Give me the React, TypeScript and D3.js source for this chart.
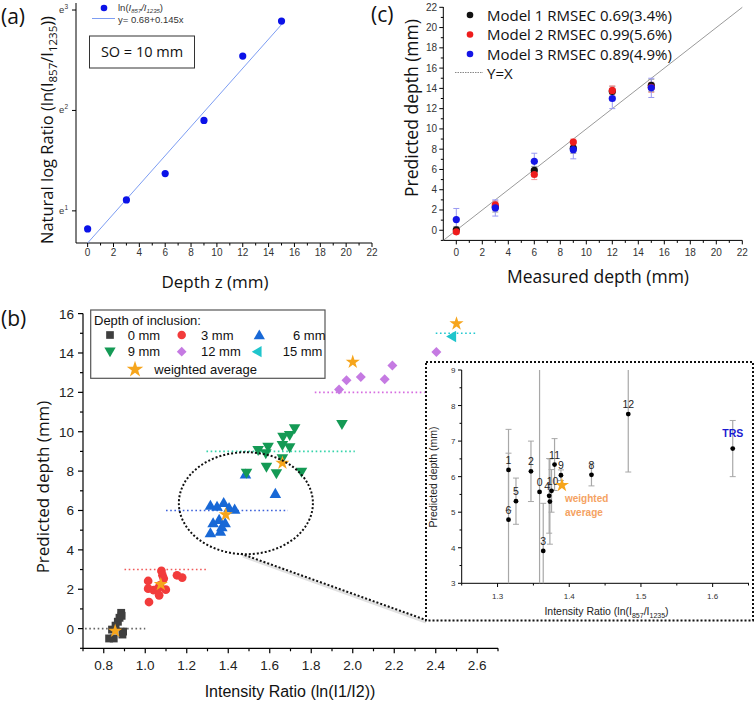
import React from 'react';
import * as d3 from 'd3';

const TITLE = "'Open Sans', 'DejaVu Sans', sans-serif";
const ARIAL = "'Liberation Sans', Arial, sans-serif";

// ---------- Panel (a) ----------
const depthA = [0, 3, 6, 9, 12, 15];
const ratioA = [2.27, 3.03, 3.94, 6.69, 12.7, 18.0];
const fitInterceptA = 0.68;
const fitSlopeA = 0.145;
const fitRangeA = [0, 15];
const xTicksA = [0, 2, 4, 6, 8, 10, 12, 14, 16, 18, 20, 22];
const xMinorA = [1, 3, 5, 7, 9, 11, 13, 15, 17, 19, 21];
const yTicksA = [1, 2, 3];

// ---------- Panel (c) ----------
const measuredC = [0, 3, 6, 9, 12, 15];
const model1 = [0.05, 2.3, 5.9, 8.1, 13.7, 14.3];
const model1Err = [0.3, 0.5, 0.4, 0.5, 0.5, 0.6];
const model2 = [-0.15, 2.5, 5.5, 8.7, 13.8, 14.1];
const model2Err = [0.2, 0.4, 0.5, 0.3, 0.45, 0.5];
const model3 = [1.05, 2.2, 6.8, 7.95, 13.0, 14.05];
const model3Err = [1.1, 0.8, 0.8, 0.9, 1.0, 0.95];
const modelNames = ['Model 1 RMSEC 0.69(3.4%)', 'Model 2 RMSEC 0.99(5.6%)', 'Model 3 RMSEC 0.89(4.9%)'];
const modelColors = ['#111111', '#ee1c1c', '#1515e6'];
const modelErrColors = ['#9a9a9a', '#f29a9a', '#9a9af2'];
const xTicksC = [0, 2, 4, 6, 8, 10, 12, 14, 16, 18, 20, 22];
const xMinorC = [1, 3, 5, 7, 9, 11, 13, 15, 17, 19, 21];
const yTicksC = [0, 2, 4, 6, 8, 10, 12, 14, 16, 18, 20, 22];
const yMinorC = [-1, 1, 3, 5, 7, 9, 11, 13, 15, 17, 19, 21];

// ---------- Panel (b) ----------
const groupLabels = ['0 mm', '3 mm', '6 mm', '9 mm', '12 mm', '15 mm'];
const groupDepths = [0, 3, 6, 9, 12, 15];
const g0x = [0.826, 0.848, 0.84, 0.857, 0.868, 0.876, 0.884, 0.886, 0.893, 0.89];
const g0y = [-0.5, -0.5, -0.05, 0.15, 0.35, 0.55, 0.8, 0.65, -0.15, -0.3];
const g3x = [1.014, 1.014, 1.041, 1.062, 1.067, 1.07, 1.078, 1.083, 1.089, 1.099, 1.018, 1.153, 1.178];
const g3y = [2.42, 2.03, 1.95, 2.03, 1.69, 2.2, 2.93, 2.71, 2.54, 1.98, 1.35, 2.71, 2.59];
const g6x = [1.314, 1.346, 1.378, 1.404, 1.431, 1.327, 1.356, 1.369, 1.385, 1.314, 1.362, 1.627, 1.483];
const g6y = [6.26, 6.21, 6.4, 6.14, 6.06, 5.37, 5.54, 5.16, 5.37, 4.86, 4.94, 6.86, 7.84];
const g9x = [1.72, 1.696, 1.664, 1.661, 1.696, 1.592, 1.544, 1.581, 1.584, 1.632, 1.661, 1.753, 1.488, 1.948];
const g9y = [10.16, 9.82, 9.73, 9.31, 9.19, 9.22, 9.06, 8.89, 8.21, 7.87, 8.63, 7.95, 7.9, 10.38];
const g12x = [1.934, 1.97, 2.039, 2.154, 2.191, 2.403];
const g12y = [12.14, 12.61, 12.78, 12.66, 13.37, 14.05];
const g15x = [2.487];
const g15y = [14.84];
const starX = [0.855, 1.075, 1.388, 1.661, 2.0, 2.5];
const starY = [-0.12, 2.25, 5.79, 8.41, 13.54, 15.49];
const refFrom = [0.71, 0.9, 1.1, 1.295, 1.817, 2.4];
const refTo = [1.0, 1.303, 1.688, 2.01, 2.347, 2.596];
const xTicksB = [0.8, 1.0, 1.2, 1.4, 1.6, 1.8, 2.0, 2.2, 2.4, 2.6];
const xMinorB = [0.7, 0.9, 1.1, 1.3, 1.5, 1.7, 1.9, 2.1, 2.3, 2.5, 2.7];
const yTicksB = [0, 2, 4, 6, 8, 10, 12, 14, 16];
const yMinorB = [-1, 1, 3, 5, 7, 9, 11, 13, 15];
const ellipseB = { cx: 1.485, cy: 6.37, rx: 0.323, ry: 2.59 };

// ---------- Inset ----------
const insetLabels = ['1', '6', '5', '2', '0', '3', '4', '', '10', '11', '9', '8', '12', 'TRS'];
const insetX = [1.3153, 1.3153, 1.3257, 1.3466, 1.3586, 1.3637, 1.372, 1.373, 1.3753, 1.3795, 1.3884, 1.431, 1.4823, 1.628];
const insetY = [6.19, 4.79, 5.31, 6.15, 5.57, 3.91, 5.46, 5.3, 5.6, 6.34, 6.04, 6.05, 7.76, 6.79];
const insetErr = [1.14, 1.87, 0.65, 0.85, 3.6, 1.34, 1.05, 1.2, 0.6, 0.73, 0.15, 0.31, 1.63, 0.79];
const insetStar = [1.3898, 5.76];
const xTicksIn = [1.3, 1.4, 1.5, 1.6];
const xMinorIn = [1.25, 1.35, 1.45, 1.55, 1.65];
const yTicksIn = [3, 4, 5, 6, 7, 8, 9];
const yMinorIn = [3.5, 4.5, 5.5, 6.5, 7.5, 8.5];

const groupColors = ['#3f3f3f', '#f23b3b', '#1868d6', '#149a55', '#c57ae2', '#1fc5cc'];
const refColors = ['#666666', '#f05a5a', '#3d62da', '#35d4aa', '#d66ce0', '#21c8d0'];
const STAR = '#f6a51c';

const sym = (t: any, size: number) => d3.symbol().type(t).size(size)() as string;

function Marker({ g, x, y, s = 1 }: { g: number; x: number; y: number; s?: number }) {
  const c = groupColors[g];
  if (g === 0) return <path d={sym(d3.symbolSquare, 62 * s)} transform={`translate(${x},${y})`} fill={c} />;
  if (g === 1) return <path d={sym(d3.symbolCircle, 60 * s)} transform={`translate(${x},${y})`} fill={c} />;
  if (g === 2) return <path d={sym(d3.symbolTriangle, 58 * s)} transform={`translate(${x},${y + 1})`} fill={c} />;
  if (g === 3) return <path d={sym(d3.symbolTriangle, 58 * s)} transform={`translate(${x},${y - 1}) rotate(180)`} fill={c} />;
  if (g === 4) return <path d={sym(d3.symbolSquare, 50 * s)} transform={`translate(${x},${y}) rotate(45)`} fill={c} />;
  return <path d={sym(d3.symbolTriangle, 58 * s)} transform={`translate(${x - 1},${y}) rotate(-90)`} fill={c} />;
}

export default function App() {
  // Panel (a) scales
  const ax = d3.scaleLinear().domain([-0.9, 22]).range([76, 372]);
  const ay = d3.scaleLog().base(Math.E).domain([Math.exp(0.68), Math.exp(3.07)]).range([243, 3]);
  const fitPath = d3.line<number>()
    .x((d) => ax(d))
    .y((d) => ay(Math.exp(fitInterceptA + fitSlopeA * d)))(fitRangeA) as string;

  // Panel (c) scales
  const cx = d3.scaleLinear().domain([-1, 22]).range([443.3, 742.3]);
  const cy = d3.scaleLinear().domain([-1, 22]).range([240.4, 7.3]);
  const models = [model1, model2, model3];
  const modelErrs = [model1Err, model2Err, model3Err];

  // Panel (b) scales
  const bx = d3.scaleLinear().domain([0.7, 2.7]).range([83, 498]);
  const by = d3.scaleLinear().domain([-1, 16]).range([648.3, 313.6]);
  const groupsX = [g0x, g3x, g6x, g9x, g12x, g15x];
  const groupsY = [g0y, g3y, g6y, g9y, g12y, g15y];

  // Inset scales
  const ix = d3.scaleLinear().domain([1.25, 1.65]).range([461.7, 748.5]);
  const iy = d3.scaleLinear().domain([3, 9]).range([583.3, 370]);

  const ex = bx(ellipseB.cx);
  const ey = by(ellipseB.cy);
  const erx = bx(ellipseB.cx + ellipseB.rx) - ex;
  const ery = ey - by(ellipseB.cy + ellipseB.ry);

  return (
    <svg width={755} height={702} style={{ position: 'absolute', left: 0, top: 0, background: '#fff' }}
      xmlns="http://www.w3.org/2000/svg">
      <rect width={755} height={702} fill="#fff" />
      <defs>
        <clipPath id="insetClip"><rect x={461.7} y={370} width={290} height={213.3} /></clipPath>
        <clipPath id="cClip"><rect x={443.3} y={0} width={300} height={240.4} /></clipPath>
      </defs>

      {/* ================= Panel (a) ================= */}
      <text x={1} y={24} fontFamily={TITLE} fontSize={21} fill="#111">(a)</text>
      <line x1={76} x2={372} y1={243} y2={243} stroke="#000" strokeWidth={1} />
      <line x1={76} x2={76} y1={3} y2={243} stroke="#000" strokeWidth={1} />
      {xTicksA.map((t) => (
        <g key={'axt' + t}>
          <line x1={ax(t)} x2={ax(t)} y1={243} y2={247} stroke="#000" />
          <text x={ax(t)} y={256} textAnchor="middle" fontFamily={ARIAL} fontSize={10} fill="#333">{t}</text>
        </g>
      ))}
      {xMinorA.map((t) => (
        <line key={'axm' + t} x1={ax(t)} x2={ax(t)} y1={243} y2={245.5} stroke="#000" />
      ))}
      {yTicksA.map((t) => (
        <g key={'ayt' + t}>
          <line x1={72} x2={76} y1={ay(Math.exp(t))} y2={ay(Math.exp(t))} stroke="#000" />
          <text x={68} y={ay(Math.exp(t)) + 3} textAnchor="end" fontFamily={ARIAL} fontSize={9.5} fill="#333">
            e<tspan dy={-4} fontSize={6.5}>{t}</tspan>
          </text>
        </g>
      ))}
      <path d={fitPath} fill="none" stroke="#7d9df2" strokeWidth={1} />
      {depthA.map((d, i) => (
        <circle key={'ap' + i} cx={ax(d)} cy={ay(ratioA[i])} r={3.6} fill="#0b12e8" />
      ))}
      {/* legend a */}
      <circle cx={104} cy={8} r={3.3} fill="#0b12e8" />
      <text x={118} y={11} fontFamily={ARIAL} fontSize={9.5} fill="#333">
        ln(<tspan fontStyle="italic">I</tspan><tspan fontStyle="italic" fontSize={6} dy={1.5}>857</tspan>
        <tspan dy={-1.5} fontStyle="italic">/I</tspan><tspan fontStyle="italic" fontSize={6} dy={1.5}>1235</tspan>
        <tspan dy={-1.5}>)</tspan>
      </text>
      <line x1={92} x2={115} y1={18.5} y2={18.5} stroke="#7d9df2" strokeWidth={1} />
      <text x={118} y={22.5} fontFamily={ARIAL} fontSize={9.5} fill="#333">y= 0.68+0.145x</text>
      <rect x={89.5} y={36} width={105} height={32} fill="#fff" stroke="#333" strokeWidth={1} />
      <text x={142} y={57} textAnchor="middle" fontFamily={TITLE} fontSize={14.5} fill="#111">SO = 10 mm</text>
      <text transform="translate(53,130) rotate(-90)" textAnchor="middle" fontFamily={TITLE} fontSize={16.5} fill="#111">
        Natural log Ratio (ln(I<tspan fontSize={11.5} dy={4}>857</tspan><tspan dy={-4}>/I</tspan>
        <tspan fontSize={11.5} dy={4}>1235</tspan><tspan dy={-4}>))</tspan>
      </text>
      <text x={215} y={288} textAnchor="middle" fontFamily={TITLE} fontSize={17} fill="#111">Depth z (mm)</text>

      {/* ================= Panel (c) ================= */}
      <text x={371} y={22} fontFamily={TITLE} fontSize={21} fill="#111">(c)</text>
      <line x1={443.3} x2={742.3} y1={240.4} y2={240.4} stroke="#000" />
      <line x1={443.3} x2={443.3} y1={7} y2={240.4} stroke="#000" />
      {xTicksC.map((t) => (
        <g key={'cxt' + t}>
          <line x1={cx(t)} x2={cx(t)} y1={240.4} y2={244.4} stroke="#000" />
          <text x={cx(t)} y={256} textAnchor="middle" fontFamily={ARIAL} fontSize={10} fill="#333">{t}</text>
        </g>
      ))}
      {xMinorC.map((t) => (
        <line key={'cxm' + t} x1={cx(t)} x2={cx(t)} y1={240.4} y2={242.9} stroke="#000" />
      ))}
      {yTicksC.map((t) => (
        <g key={'cyt' + t}>
          <line x1={439.3} x2={443.3} y1={cy(t)} y2={cy(t)} stroke="#000" />
          <text x={437} y={cy(t) + 3.5} textAnchor="end" fontFamily={ARIAL} fontSize={10} fill="#333">{t}</text>
        </g>
      ))}
      {yMinorC.map((t) => (
        <line key={'cym' + t} x1={440.8} x2={443.3} y1={cy(t)} y2={cy(t)} stroke="#000" />
      ))}
      <line clipPath="url(#cClip)" x1={cx(-1)} y1={cy(-1)} x2={cx(22)} y2={cy(22)} stroke="#9a9a9a" strokeWidth={1} />
      {models.map((m, k) => (
        <g key={'model' + k}>
          {measuredC.map((d, i) => {
            const x = cx(d);
            const y0 = cy(m[i] - modelErrs[k][i]);
            const y1 = cy(m[i] + modelErrs[k][i]);
            return (
              <g key={i}>
                <line x1={x} x2={x} y1={y0} y2={y1} stroke={modelErrColors[k]} strokeWidth={1} />
                <line x1={x - 3} x2={x + 3} y1={y0} y2={y0} stroke={modelErrColors[k]} strokeWidth={1} />
                <line x1={x - 3} x2={x + 3} y1={y1} y2={y1} stroke={modelErrColors[k]} strokeWidth={1} />
              </g>
            );
          })}
        </g>
      ))}
      {models.map((m, k) => (
        <g key={'modelp' + k}>
          {measuredC.map((d, i) => (
            <circle key={i} cx={cx(d)} cy={cy(m[i])} r={3.6} fill={modelColors[k]} />
          ))}
        </g>
      ))}
      {modelNames.map((n, k) => (
        <g key={'cl' + k}>
          <circle cx={470} cy={15 + k * 19.5} r={3.3} fill={modelColors[k]} />
          <text x={487} y={20.5 + k * 19.5} fontFamily={TITLE} fontSize={15} fill="#111">{n}</text>
        </g>
      ))}
      <line x1={455} x2={483} y1={72.5} y2={72.5} stroke="#888" strokeWidth={1} strokeDasharray="1.5,1" />
      <text x={487} y={78.5} fontFamily={TITLE} fontSize={15} fill="#111">Y=X</text>
      <text transform="translate(418,108) rotate(-90)" textAnchor="middle" fontFamily={TITLE} fontSize={17.5} fill="#111">
        Predicted depth (mm)
      </text>
      <text x={598} y={283} textAnchor="middle" fontFamily={TITLE} fontSize={17.5} fill="#111">Measured depth (mm)</text>

      {/* ================= Panel (b) ================= */}
      <text x={1} y={326} fontFamily={TITLE} fontSize={21} fill="#111">(b)</text>
      <line x1={83} x2={498} y1={648.3} y2={648.3} stroke="#000" strokeWidth={1.2} />
      <line x1={83} x2={83} y1={313.6} y2={648.3} stroke="#000" strokeWidth={1.2} />
      {xTicksB.map((t) => (
        <g key={'bxt' + t}>
          <line x1={bx(t)} x2={bx(t)} y1={648.3} y2={653.3} stroke="#000" strokeWidth={1.2} />
          <text x={bx(t)} y={670} textAnchor="middle" fontFamily={ARIAL} fontSize={13.5} fill="#222">{t.toFixed(1)}</text>
        </g>
      ))}
      {xMinorB.map((t) => (
        <line key={'bxm' + t} x1={bx(t)} x2={bx(t)} y1={648.3} y2={651.3} stroke="#000" strokeWidth={1.2} />
      ))}
      {yTicksB.map((t) => (
        <g key={'byt' + t}>
          <line x1={78} x2={83} y1={by(t)} y2={by(t)} stroke="#000" strokeWidth={1.2} />
          <text x={74} y={by(t) + 5} textAnchor="end" fontFamily={ARIAL} fontSize={13.5} fill="#222">{t}</text>
        </g>
      ))}
      {yMinorB.map((t) => (
        <line key={'bym' + t} x1={80} x2={83} y1={by(t)} y2={by(t)} stroke="#000" strokeWidth={1.2} />
      ))}
      {/* reference dotted lines */}
      {groupDepths.map((d, i) => (
        <line key={'ref' + i} x1={bx(refFrom[i])} x2={bx(refTo[i])} y1={by(d)} y2={by(d)}
          stroke={refColors[i]} strokeWidth={1.6} strokeDasharray="1.6,2.6" />
      ))}
      {/* points */}
      {groupsX.map((gx, g) => (
        <g key={'grp' + g}>
          {gx.map((x, i) => (
            <Marker key={i} g={g} x={bx(x)} y={by(groupsY[g][i])} />
          ))}
        </g>
      ))}
      {starX.map((x, i) => (
        <path key={'star' + i} d={sym(d3.symbolStar, 62)} transform={`translate(${bx(x)},${by(starY[i])})`} fill={STAR} />
      ))}
      {/* ellipse and connector */}
      <line x1={ex - 3} y1={ey + ery + 2} x2={426} y2={622} stroke="#e2e2e2" strokeWidth={3} />
      <ellipse cx={ex} cy={ey} rx={erx} ry={ery} fill="none" stroke="#111" strokeWidth={2} strokeDasharray="2,2" />
      <line x1={ex - 5} y1={ey + ery - 0.5} x2={426} y2={620} stroke="#111" strokeWidth={2} strokeDasharray="2,2" />
      {/* legend (b) */}
      <rect x={90.7} y={310} width={234.3} height={68.3} fill="#fff" stroke="#555" strokeWidth={1.2} />
      <text x={94} y={325} fontFamily={ARIAL} fontSize={13} fill="#111">Depth of inclusion:</text>
      {groupLabels.map((lab, g) => {
        const col = g % 3;
        const row = Math.floor(g / 3);
        const sx = [110, 181.7, 259.3][col];
        const tx = [127.7, 201, g === 2 ? 293 : 282.7][col];
        const yy = 335 + row * 16.7;
        return (
          <g key={'lg' + g}>
            <Marker g={g} x={sx} y={yy} s={0.95} />
            <text x={tx} y={yy + 4.7} fontFamily={ARIAL} fontSize={13} fill="#111">{lab}</text>
          </g>
        );
      })}
      <path d={sym(d3.symbolStar, 85)} transform="translate(135,369.5)" fill={STAR} />
      <text x={154.3} y={373.7} fontFamily={ARIAL} fontSize={13} fill="#111">weighted average</text>
      <text transform="translate(49,487) rotate(-90)" textAnchor="middle" fontFamily={TITLE} fontSize={17} fill="#111">
        Predicted depth (mm)
      </text>
      <text x={290} y={697} textAnchor="middle" fontFamily={ARIAL} fontSize={16} fill="#111">Intensity Ratio (ln(I1/I2))</text>

      {/* ================= Inset ================= */}
      <rect x={426} y={362} width={327} height={258.5} fill="#fff" stroke="#111" strokeWidth={2} strokeDasharray="2,2" />
      <line x1={461.7} x2={749} y1={583.3} y2={583.3} stroke="#000" />
      <line x1={461.7} x2={461.7} y1={370} y2={583.3} stroke="#000" />
      {xTicksIn.map((t) => (
        <g key={'ixt' + t}>
          <line x1={ix(t)} x2={ix(t)} y1={583.3} y2={587} stroke="#000" />
          <text x={ix(t)} y={598.5} textAnchor="middle" fontFamily={ARIAL} fontSize={8} fill="#333">{t.toFixed(1)}</text>
        </g>
      ))}
      {xMinorIn.map((t) => (
        <line key={'ixm' + t} x1={ix(t)} x2={ix(t)} y1={583.3} y2={585.5} stroke="#000" />
      ))}
      {yTicksIn.map((t) => (
        <g key={'iyt' + t}>
          <line x1={458} x2={461.7} y1={iy(t)} y2={iy(t)} stroke="#000" />
          <text x={455.5} y={iy(t) + 3} textAnchor="end" fontFamily={ARIAL} fontSize={8} fill="#333">{t}</text>
        </g>
      ))}
      {yMinorIn.map((t) => (
        <line key={'iym' + t} x1={459.5} x2={461.7} y1={iy(t)} y2={iy(t)} stroke="#000" />
      ))}
      <g clipPath="url(#insetClip)">
        {insetX.map((x, i) => {
          const px = ix(x);
          const y0 = iy(insetY[i] - insetErr[i]);
          const y1 = iy(insetY[i] + insetErr[i]);
          return (
            <g key={'ie' + i}>
              <line x1={px} x2={px} y1={y0} y2={y1} stroke="#a8a8a8" strokeWidth={1.2} />
              <line x1={px - 3} x2={px + 3} y1={y0} y2={y0} stroke="#a8a8a8" strokeWidth={1} />
              <line x1={px - 3} x2={px + 3} y1={y1} y2={y1} stroke="#a8a8a8" strokeWidth={1} />
            </g>
          );
        })}
      </g>
      {insetX.map((x, i) => (
        <circle key={'ip' + i} cx={ix(x)} cy={iy(insetY[i])} r={2.4} fill="#000" />
      ))}
      {insetLabels.map((lab, i) =>
        lab === '' ? null : lab === 'TRS' ? (
          <text key={'il' + i} x={ix(insetX[i])} y={iy(insetY[i]) - 12} textAnchor="middle" fontFamily={ARIAL}
            fontSize={10.5} fontWeight="bold" fill="#1a1ad0">{lab}</text>
        ) : (
          <text key={'il' + i} x={ix(insetX[i]) + (lab === '4' ? -2 : lab === '10' ? 1 : 0)} y={iy(insetY[i]) - 6}
            textAnchor="middle" fontFamily={ARIAL} fontSize={10.5} fill="#222">{lab}</text>
        )
      )}
      <path d={sym(d3.symbolStar, 62)} transform={`translate(${ix(insetStar[0])},${iy(insetStar[1])})`} fill={STAR} />
      <text x={565} y={501.5} fontFamily={ARIAL} fontSize={10} fontWeight="bold" fill="#f5a262">weighted</text>
      <text x={565} y={516} fontFamily={ARIAL} fontSize={10} fontWeight="bold" fill="#f5a262">average</text>
      <text transform="translate(437,477) rotate(-90)" textAnchor="middle" fontFamily={ARIAL} fontSize={10.5} fill="#222">
        Predicted depth (mm)
      </text>
      <text x={606.5} y={615} textAnchor="middle" fontFamily={ARIAL} fontSize={10.5} fill="#222">
        Intensity Ratio (ln(I<tspan fontSize={7} dy={2.5}>857</tspan><tspan dy={-2.5}>/I</tspan>
        <tspan fontSize={7} dy={2.5}>1235</tspan><tspan dy={-2.5}>)</tspan>
      </text>
    </svg>
  );
}
